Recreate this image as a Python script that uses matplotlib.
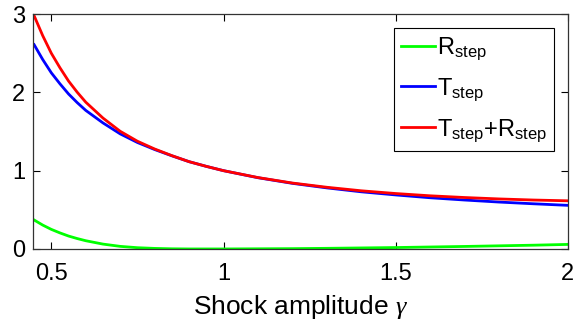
import numpy as np
import matplotlib
matplotlib.use('Agg')
from matplotlib import pyplot as plt

# shock amplitude gamma
gamma = [0.45, 0.475, 0.50, 0.525, 0.55, 0.575, 0.60, 0.65, 0.70, 0.75, 0.80, 0.85,
         0.90, 0.95, 1.00, 1.10, 1.20, 1.30, 1.40, 1.50, 1.60, 1.70, 1.80, 1.90, 2.00]
# transmission coefficient
t_step = [2.61, 2.42, 2.25, 2.11, 1.98, 1.87, 1.77, 1.61, 1.47, 1.36, 1.27, 1.19,
          1.115, 1.055, 1.00, 0.91, 0.838, 0.78, 0.73, 0.69, 0.654, 0.625, 0.599, 0.577, 0.557]
# reflection coefficient
r_step = [0.37, 0.305, 0.25, 0.205, 0.165, 0.133, 0.105, 0.062, 0.033, 0.016, 0.007, 0.002,
          0.0, 0.0, 0.0, 0.002, 0.004, 0.008, 0.013, 0.018, 0.025, 0.032, 0.040, 0.048, 0.058]

xticks = [0.5, 1, 1.5, 2]
xticklabels = ['0.5', '1', '1.5', '2']
yticks = [0, 1, 2, 3]

plt.rcParams['font.family'] = 'Liberation Sans'
plt.rcParams['mathtext.fontset'] = 'custom'
plt.rcParams['mathtext.rm'] = 'Liberation Sans'
plt.rcParams['mathtext.it'] = 'Liberation Serif:italic'

gamma = np.array(gamma)
t_step = np.array(t_step)
r_step = np.array(r_step)

fig = plt.figure(figsize=(5.76, 3.28), dpi=100)
ax = fig.add_axes([0.058, 0.241, 0.928, 0.716])

ax.plot(gamma, r_step, color=(0, 1, 0), lw=2, label=r'R$_{\mathrm{step}}$')
ax.plot(gamma, t_step, color=(0, 0, 1), lw=2, label=r'T$_{\mathrm{step}}$')
ax.plot(gamma, t_step + r_step, color=(1, 0, 0), lw=2,
        label=r'T$_{\mathrm{step}}$+R$_{\mathrm{step}}$')

ax.set_xlim(0.448, 2)
ax.set_ylim(0, 3)
ax.set_xticks(xticks)
ax.set_xticklabels(xticklabels)
ax.set_yticks(yticks)
ax.tick_params(direction='in', top=True, right=True, length=5, width=0.8,
               labelsize=17)
ax.tick_params(axis='x', pad=10)
ax.tick_params(axis='y', pad=6)
for s in ax.spines.values():
    s.set_linewidth(0.9)
    s.set_color('#333333')
ax.set_xlabel(r'Shock amplitude $\gamma$', fontsize=19, labelpad=6)

leg = ax.legend(loc='upper right', bbox_to_anchor=(0.974, 0.940), fontsize=17,
                fancybox=False, framealpha=1, edgecolor='black',
                handlelength=1.4, handletextpad=0.1, labelspacing=0.6,
                borderpad=0.3, borderaxespad=0)
leg.get_frame().set_linewidth(0.8)

fig.savefig('out.png', dpi=100)
